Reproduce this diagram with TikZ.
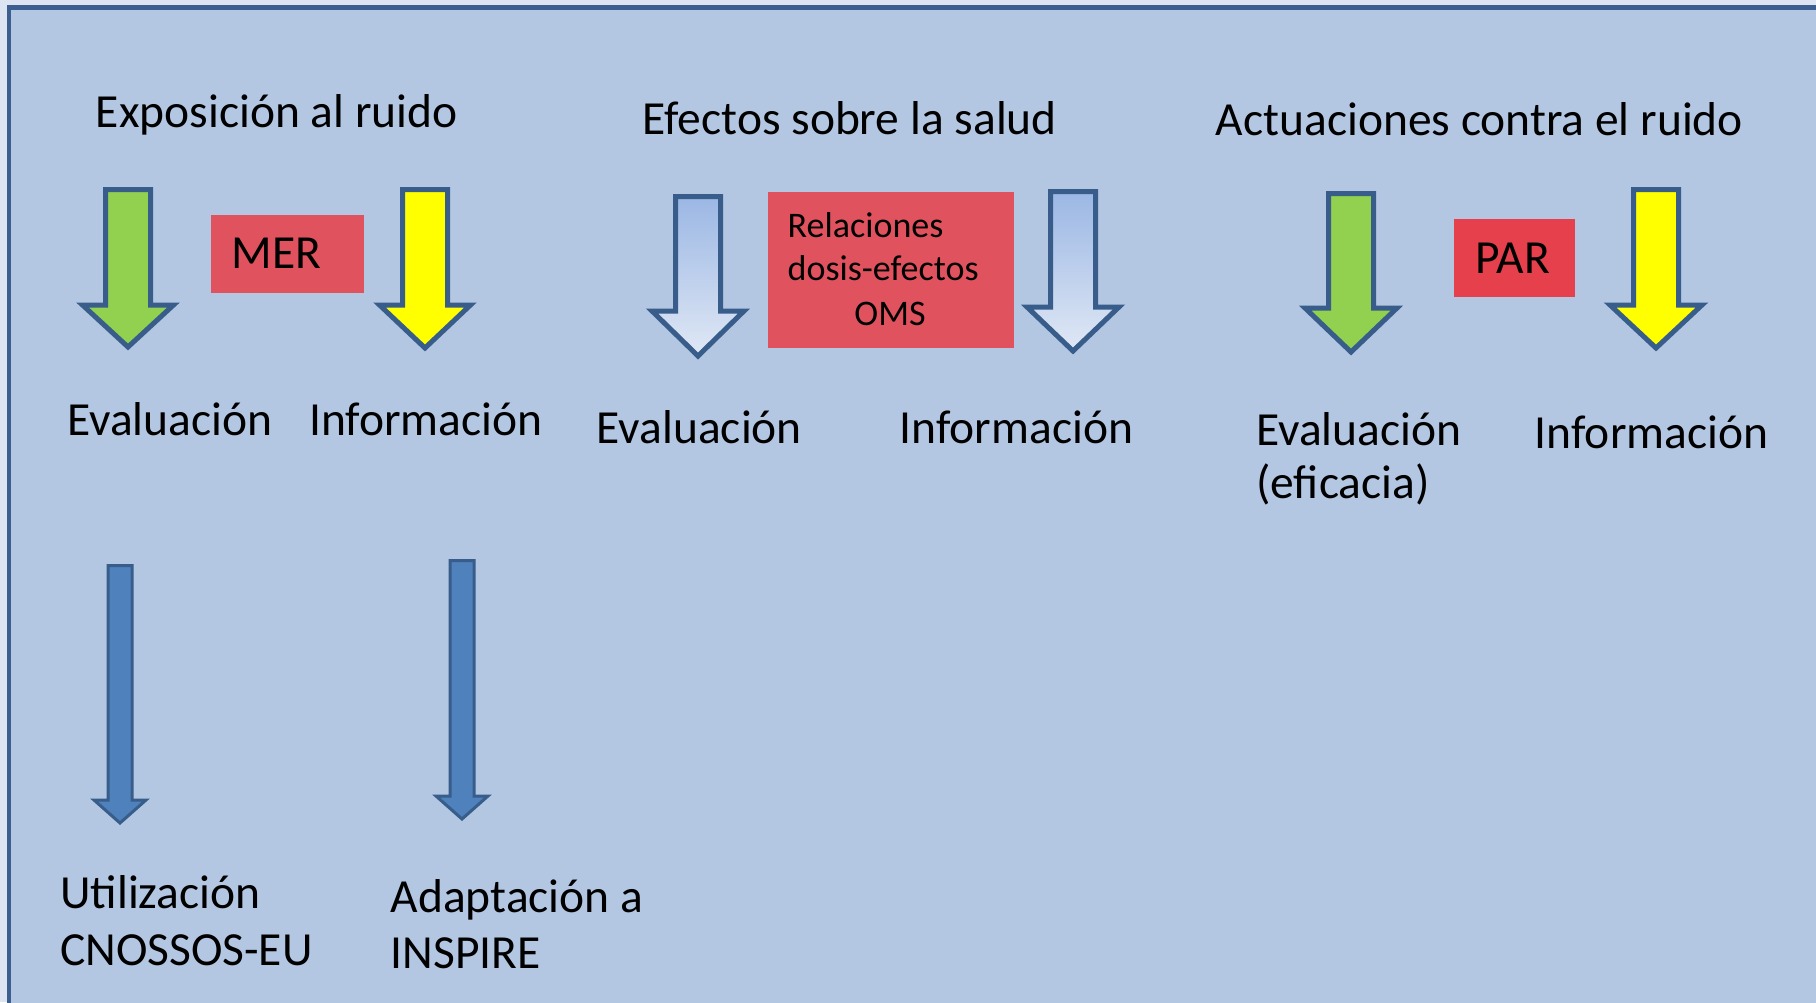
\documentclass[tikz,border=0pt]{standalone}
\usepackage{fontspec}
\setmainfont{Carlito}
\definecolor{outerband}{RGB}{221,229,242}
\definecolor{panelbg}{RGB}{179,199,227}
\definecolor{frameblue}{RGB}{59,95,142}
\definecolor{arrowline}{RGB}{56,93,138}
\definecolor{greenfill}{RGB}{146,208,80}
\definecolor{yellowfill}{RGB}{255,255,0}
\definecolor{bluefill}{RGB}{79,129,189}
\definecolor{gradtop}{RGB}{155,183,228}
\definecolor{gradbot}{RGB}{224,232,245}
\definecolor{boxred}{RGB}{224,82,94}
\definecolor{boxredb}{RGB}{229,64,76}
\tikzset{
  bigarrow/.style={draw=arrowline,line width=5pt,line join=miter},
  thinarrow/.style={draw=arrowline,line width=3pt,line join=miter,fill=bluefill},
  lbl/.style={anchor=base west,inner sep=0pt,font=\fontsize{47.5}{56}\selectfont},
  smalllbl/.style={anchor=base west,inner sep=0pt,font=\fontsize{36}{44}\selectfont},
  redbox/.style={fill=boxred,draw=none}
}
% #1 style, #2 centre x, #3 shaft half width, #4 head half width, #5 top, #6 shoulder, #7 tip
\newcommand\dnarrow[7]{%
  \path[#1] (#2-#3,#5) -- (#2+#3,#5) -- (#2+#3,#6) -- (#2+#4,#6) -- (#2,#7)
    -- (#2-#4,#6) -- (#2-#3,#6) -- cycle;}
\begin{document}
\begin{tikzpicture}[x=1pt,y=-1pt]
\clip (0,0) rectangle (1816,1002);
\fill[outerband] (0,0) rectangle (1816,1002);
\path[fill=panelbg,draw=frameblue,line width=4.5pt] (9,7.5) rectangle (1840,1030);

% titles
\node[lbl] (t1) at (95.7,127) {Exposición al ruido};
\node[lbl] (t2) at (642.7,134) {Efectos sobre la salud};
\node[lbl] (t3) at (1215.7,135) {Actuaciones contra el ruido};

% top arrows
\dnarrow{bigarrow,fill=greenfill}{128}{22.5}{45.5}{189.5}{305}{347}
\dnarrow{bigarrow,fill=yellowfill}{425}{22.5}{45.5}{189.5}{305}{348}
\dnarrow{bigarrow,top color=gradtop,bottom color=gradbot}{698}{22.5}{46}{196.5}{311}{356}
\dnarrow{bigarrow,top color=gradtop,bottom color=gradbot}{1073}{22.5}{46}{191.5}{307}{351}
\dnarrow{bigarrow,fill=greenfill}{1351}{22.5}{46}{193.5}{308}{352}
\dnarrow{bigarrow,fill=yellowfill}{1656}{22.5}{46}{189.5}{305}{348}

% red boxes
\fill[redbox] (210.5,215) rectangle (363.6,293);
\node[lbl] (mer) at (231.5,268) {MER};
\fill[redbox] (768,192) rectangle (1013.5,348);
\node[smalllbl] (rel1) at (787.5,237) {Relaciones};
\node[smalllbl] (rel2) at (787.5,280) {dosis-efectos};
\node[smalllbl,anchor=base] (rel3) at (890,325) {OMS};
\fill[boxredb] (1454,219) rectangle (1575,297);
\node[lbl] (par) at (1475.6,273) {PAR};

% labels under arrows
\node[lbl] (ev1) at (67,435) {Evaluación};
\node[lbl] (in1) at (309,435) {Información};
\node[lbl] (ev2) at (596.6,443) {Evaluación};
\node[lbl] (in2) at (899.5,443) {Información};
\node[lbl] (ev3) at (1256,445) {Evaluación};
\node[lbl] (ev3b) at (1256,498) {(eficacia)};
\node[lbl] (in3) at (1534.6,448) {Información};

% lower arrows
\dnarrow{thinarrow}{120}{12}{26}{565.5}{800}{823}
\dnarrow{thinarrow}{462}{12}{26}{560.5}{796}{819}

\node[lbl] (u1) at (60,908) {Utilización};
\node[lbl] (u2) at (60,965) {CNOSSOS-EU};
\node[lbl] (a1) at (390.6,912) {Adaptación a};
\node[lbl] (a2) at (390.6,968) {INSPIRE};
\end{tikzpicture}
\end{document}
